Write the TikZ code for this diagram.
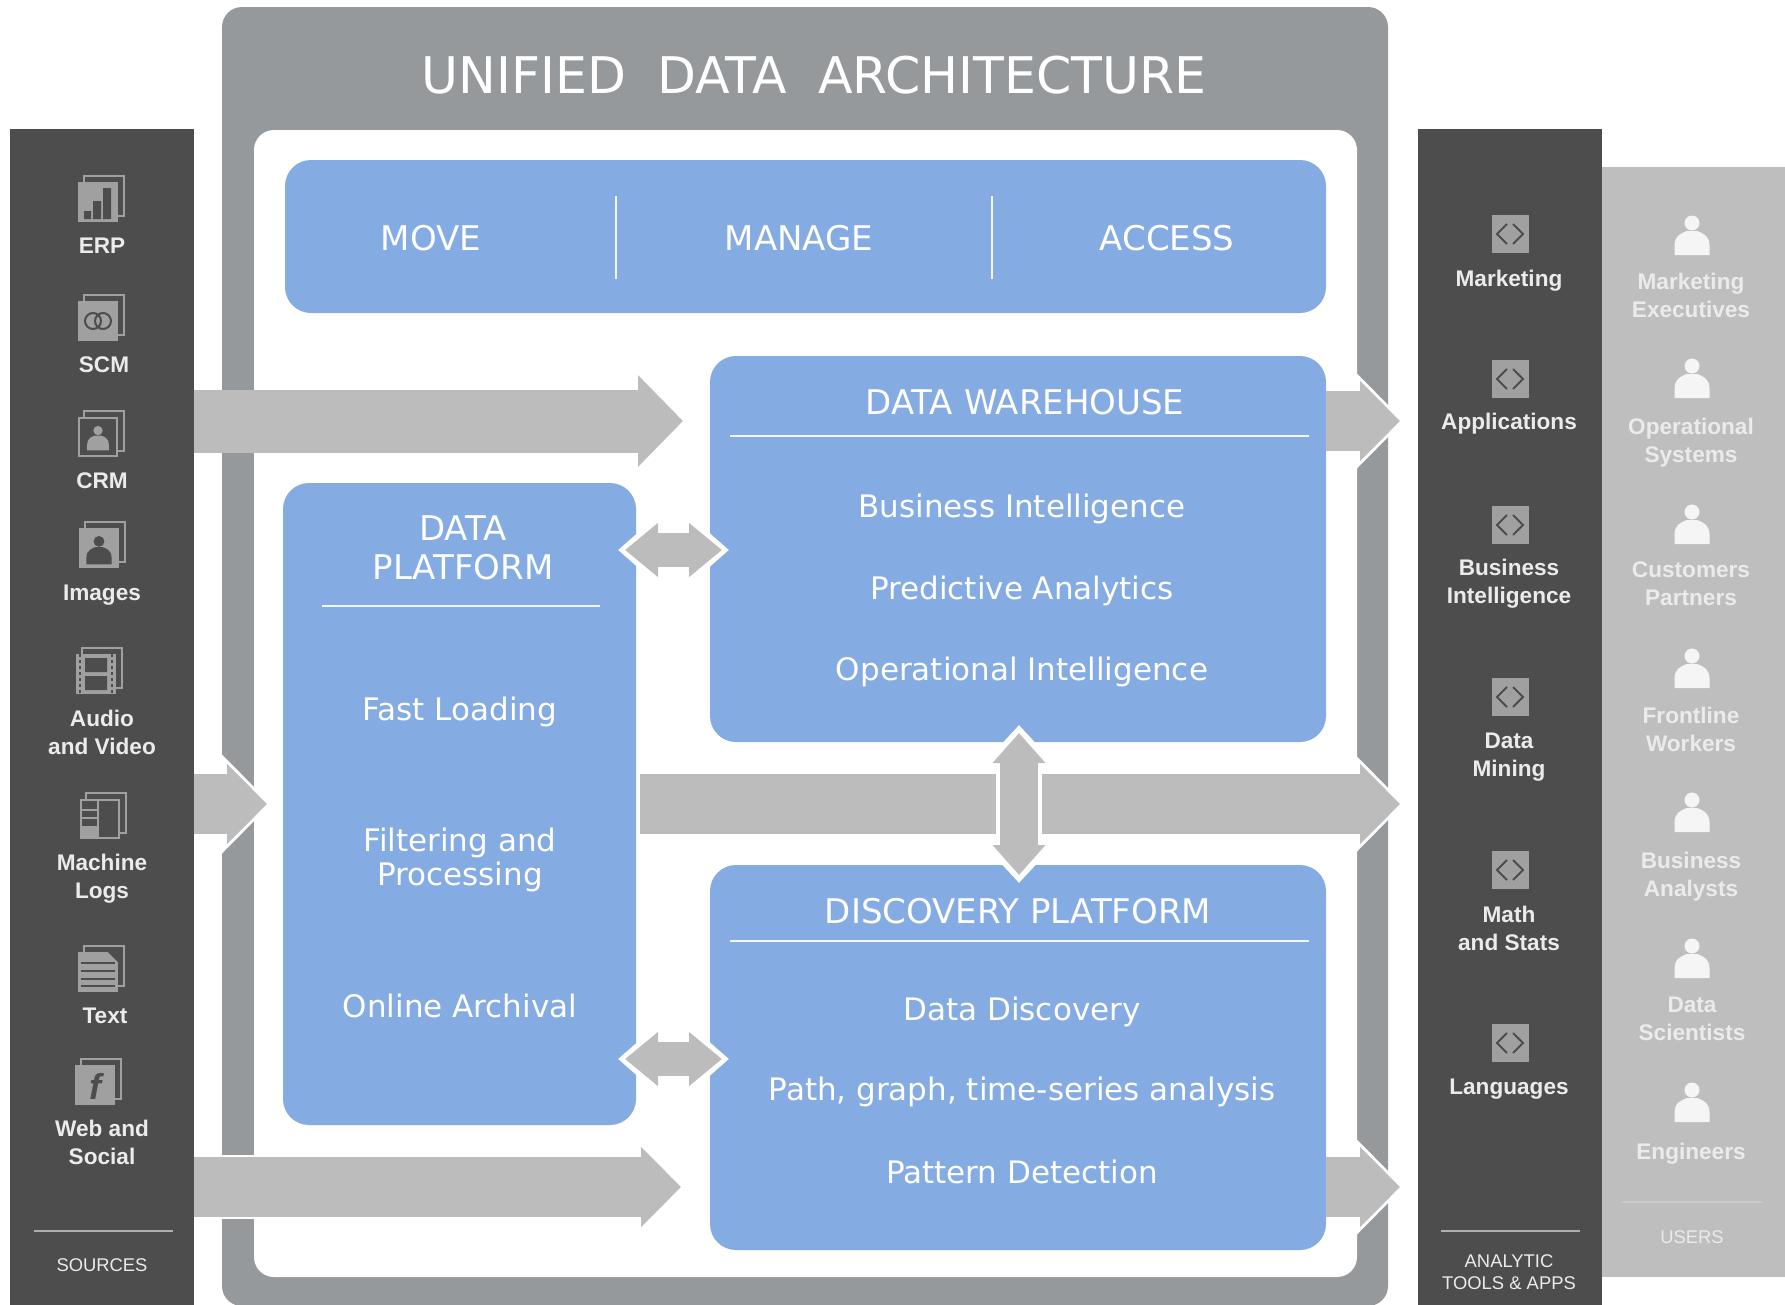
\documentclass[tikz,border=0pt]{standalone}
\usepackage{fontspec}
\setmainfont{Liberation Sans}
\newfontfamily\boxfont{DejaVu Sans}
\usepackage{tikz}
\usetikzlibrary{positioning, arrows.meta}
\definecolor{framegray}{HTML}{95999C}
\definecolor{boxblue}{HTML}{85ABE3}
\definecolor{flowgray}{HTML}{BCBCBC}
\definecolor{paneldark}{HTML}{4D4D4D}
\definecolor{panellight}{HTML}{BEBEBE}
\definecolor{icongray}{HTML}{A0A0A0}

\begin{document}
\begin{tikzpicture}[
        x=1pt, y=-1pt,
        on grid,
        panel/.style={rectangle, anchor=north west, inner sep=0pt, outer sep=0pt},
        framebox/.style={panel, rounded corners=20pt},
        bluebox/.style={panel, fill=boxblue, rounded corners=26pt},
        boxrule/.style={rectangle, fill=white!90!boxblue, inner sep=0pt, outer sep=0pt, minimum height=1.2pt},
        panelrule/.style={rectangle, fill=#1, inner sep=0pt, outer sep=0pt, minimum height=1.2pt},
        boxhead/.style={text=white, align=center, font=\boxfont\fontsize{34}{39}\selectfont},
        boxitem/.style={text=white, align=center, font=\boxfont\fontsize{31}{34}\selectfont},
        sidelabel/.style={text=white!92!black, align=center, font=\bfseries\fontsize{22.6}{28}\selectfont},
        sidefoot/.style={text=white!92!black, align=center, font=\fontsize{18.4}{21.5}\selectfont},
        longarrow/.style={draw=flowgray, line width=63pt, -{Triangle[length=45pt, width=89pt]}},
        flowarrow/.style={
            draw=flowgray, line width=60pt, -{Triangle[length=40pt, width=78pt]},
            preaction={draw=white, line width=64pt, shorten >=-4pt, -{Triangle[length=51pt, width=100pt]}}
        },
        sidelink/.style={
            draw=flowgray, line width=34pt, {Triangle[length=33pt, width=52pt]}-{Triangle[length=33pt, width=52pt]},
            preaction={draw=white, line width=40pt, shorten >=-7pt, shorten <=-7pt,
                {Triangle[length=38pt, width=64pt]}-{Triangle[length=38pt, width=64pt]}}
        },
        uplink/.style={
            draw=flowgray, line width=38pt, {Triangle[length=30pt, width=51pt]}-{Triangle[length=30pt, width=51pt]},
            preaction={draw=white, line width=46pt, shorten >=-8pt, shorten <=-8pt,
                {Triangle[length=36pt, width=64pt]}-{Triangle[length=36pt, width=64pt]}}
        },
        pagestack/.pic={
            \draw[icongray, line width=1.8pt] (-14,-20) -- (-14,-26) -- (26,-26) -- (26,14) -- (20,14);
        },
        solidpage/.pic={
            \pic {pagestack};
            \fill[icongray] (-20,-20) rectangle (20,20);
        },
        openpage/.pic={
            \pic {pagestack};
            \draw[icongray, line width=2pt] (-19,-19) rectangle (19,19);
        },
        person/.pic={
            \path[pic actions] (0,-12) circle (7.5);
            \path[pic actions] (-17.5,20) -- (-17.5,10) .. controls (-17.5,0) and (-8,-3) .. (-5,-4)
                -- (5,-4) .. controls (8,-3) and (17.5,0) .. (17.5,10) -- (17.5,20) -- cycle;
        },
        erpicon/.pic={
            \pic {solidpage};
            \fill[paneldark] (-14,9) rectangle (-7,17) (-5,-1) rectangle (3,17) (5,-14) rectangle (13,17);
        },
        scmicon/.pic={
            \pic {solidpage};
            \draw[paneldark, line width=2pt] (-5,0) circle (8) (5,0) circle (8);
        },
        crmicon/.pic={
            \pic {openpage};
            \pic[fill=icongray, scale=.62] at (0,1) {person};
        },
        imageicon/.pic={
            \pic {solidpage};
            \pic[fill=paneldark, scale=.72] at (0,2) {person};
        },
        filmicon/.pic={
            \pic {solidpage};
            \fill[paneldark] (-11,-16) rectangle (11,-2) (-11,2) rectangle (11,16);
            \draw[paneldark, line width=2.5pt, dash pattern=on 3pt off 3pt] (-16,-20) -- (-16,20) (16,-20) -- (16,20);
        },
        logicon/.pic={
            \pic {openpage};
            \draw[icongray, line width=2pt] (-19,-9) -- (-2,-9) (-19,-1) -- (-2,-1) (-2,-19) -- (-2,19);
            \fill[icongray] (-19,7) rectangle (-2,19);
        },
        texticon/.pic={
            \pic {solidpage};
            \fill[paneldark] (9,-21) -- (21,-21) -- (21,-9) -- cycle;
            \draw[paneldark, line width=2pt] (-17,-9) -- (17,-9) (-17,-1) -- (17,-1) (-17,7) -- (17,7) (-17,14) -- (17,14);
        },
        webicon/.pic={
            \pic {solidpage};
            \node[text=paneldark, font=\bfseries\itshape\fontsize{36}{36}\selectfont] (fglyph) at (0,1) {f};
        },
        toolicon/.pic={
            \fill[icongray] (-18.5,-19) rectangle (18.5,19);
            \draw[paneldark, line width=2pt] (-3,-10) -- (-13,0) -- (-3,10) (3,-10) -- (13,0) -- (3,10);
        }
    ]
    \useasboundingbox (0,0) rectangle (1785,1304);

    % --- Panels ---
    \node[panel, fill=paneldark, minimum width=184pt, minimum height=1177pt] (sources) at (10,129) {};
    \node[panel, fill=panellight, minimum width=183pt, minimum height=1110pt] (users) at (1602,167) {};
    \node[panel, fill=paneldark, minimum width=184pt, minimum height=1177pt] (tools) at (1418,129) {};
    \node[framebox, fill=framegray, minimum width=1166pt, minimum height=1299pt] (frame) at (222,7) {};
    \node[framebox, fill=white, minimum width=1103pt, minimum height=1147pt] (inner) at (254,130) {};
    \node[text=white, font=\boxfont\fontsize{50.5}{60}\selectfont] (title) at (814,75) {UNIFIED\hspace{15pt} DATA\hspace{15pt} ARCHITECTURE};

    % --- Top bar ---
    \node[bluebox, minimum width=1041pt, minimum height=153pt] (bar) at (285,160) {};
    \node[boxhead] (move) at (431,238) {MOVE};
    \node[boxhead] (manage) at (799,238) {MANAGE};
    \node[boxhead] (access) at (1167,238) {ACCESS};
    \node[boxrule, minimum height=83pt, minimum width=1.2pt] (sepa) at (616,237) {};
    \node[boxrule, minimum height=83pt, minimum width=1.2pt] (sepb) at (992,237) {};

    % --- Blue boxes ---
    \node[bluebox, minimum width=616pt, minimum height=386pt] (dw) at (710,356) {};
    \node[boxhead] (dwtitle) at (1025,402) {DATA WAREHOUSE};
    \node[boxrule, minimum width=579pt] (dwrule) at (1019,436) {};
    \node[boxitem] (dwbi) at (1022,509) {Business Intelligence};
    \node[boxitem, below=82pt of dwbi] (dwpa) {Predictive Analytics};
    \node[boxitem, below=81pt of dwpa] (dwoi) {Operational Intelligence};

    \node[bluebox, minimum width=353pt, minimum height=642pt] (dp) at (283,483) {};
    \node[boxhead] (dptitle) at (463,548) {DATA\\PLATFORM};
    \node[boxrule, minimum width=278pt] (dprule) at (461,606) {};
    \node[boxitem] (dpfast) at (460,712) {Fast Loading};
    \node[boxitem, below=148pt of dpfast] (dpfilter) {Filtering and\\Processing};
    \node[boxitem, below=146pt of dpfilter] (dparchive) {Online Archival};

    \node[bluebox, minimum width=616pt, minimum height=385pt] (disc) at (710,865) {};
    \node[boxhead] (disctitle) at (1018,911) {DISCOVERY PLATFORM};
    \node[boxrule, minimum width=579pt] (discrule) at (1019,941) {};
    \node[boxitem] (discdata) at (1022,1012) {Data Discovery};
    \node[boxitem, below=80pt of discdata] (discpath) {Path, graph, time-series analysis};
    \node[boxitem, below=80pt of discpath] (discpattern) {Pattern Detection};

    % --- Arrows ---
    \coordinate (topflow) at (0,421);
    \coordinate (midflow) at (0,804);
    \coordinate (lowflow) at (0,1187);
    \coordinate (dwlink) at (0,550);
    \coordinate (disclink) at (0,1059);
    \coordinate (midlink) at (1019,0);

    \draw[longarrow] (sources.east |- topflow) -- ([xshift=-27pt]dw.west |- topflow);
    \draw[flowarrow] (sources.east |- midflow) -- ([xshift=-16pt]dp.west |- midflow);
    \draw[flowarrow] (sources.east |- lowflow) -- ([xshift=-29pt]disc.west |- lowflow);
    \draw[flowarrow] (dw.east |- topflow) -- ([xshift=-18pt]tools.west |- topflow);
    \draw[flowarrow] ([xshift=4pt]dp.east |- midflow) -- ([xshift=-18pt]tools.west |- midflow);
    \draw[flowarrow] (disc.east |- lowflow) -- ([xshift=-18pt]tools.west |- lowflow);
    \draw[sidelink] ([xshift=-11pt]dp.east |- dwlink) -- ([xshift=12pt]dw.west |- dwlink);
    \draw[sidelink] ([xshift=-11pt]dp.east |- disclink) -- ([xshift=12pt]disc.west |- disclink);
    \draw[uplink] ([yshift=9pt]dw.south -| midlink) -- ([yshift=-10pt]disc.north -| midlink);

    % --- Sources ---
    \pic at (98,202) {erpicon};
    \node[sidelabel] (erp) at (102,246) {ERP};
    \pic at (98,321) {scmicon};
    \node[sidelabel] (scm) at (104,365) {SCM};
    \pic at (98,437) {crmicon};
    \node[sidelabel] (crm) at (102,481) {CRM};
    \pic at (99,548) {imageicon};
    \node[sidelabel] (images) at (102,595) {Images};
    \pic at (96,674) {filmicon};
    \node[sidelabel] (audio) at (102,732) {Audio\\and Video};
    \pic at (100,819) {logicon};
    \node[sidelabel] (logs) at (102,879) {Machine\\Logs};
    \pic at (98,972) {texticon};
    \node[sidelabel] (textsrc) at (105,1016) {Text};
    \pic at (95,1085) {webicon};
    \node[sidelabel] (web) at (102,1142) {Web and\\Social};
    \node[panelrule=white!55!paneldark, minimum width=139pt] (srcrule) at (103,1231) {};
    \node[sidefoot] (srcfoot) at (102,1265) {SOURCES};

    % --- Analytic tools ---
    \pic at (1510,234) {toolicon};
    \node[sidelabel] (marketing) at (1509,281) {Marketing};
    \pic at (1510,379) {toolicon};
    \node[sidelabel] (apps) at (1509,424) {Applications};
    \pic at (1510,525) {toolicon};
    \node[sidelabel] (bi) at (1509,584) {Business\\Intelligence};
    \pic at (1510,697) {toolicon};
    \node[sidelabel] (mining) at (1509,757) {Data\\Mining};
    \pic at (1510,870) {toolicon};
    \node[sidelabel] (stats) at (1509,928) {Math\\and Stats};
    \pic at (1510,1043) {toolicon};
    \node[sidelabel] (languages) at (1509,1089) {Languages};
    \node[panelrule=white!55!paneldark, minimum width=139pt] (toolrule) at (1510,1231) {};
    \node[sidefoot] (toolfoot) at (1509,1272) {ANALYTIC\\TOOLS \& APPS};

    % --- Users ---
    \pic[fill=white!96!black] at (1692,235) {person};
    \node[sidelabel] (execs) at (1691,295) {Marketing\\Executives};
    \pic[fill=white!96!black] at (1692,378) {person};
    \node[sidelabel] (opsys) at (1691,443) {Operational\\Systems};
    \pic[fill=white!96!black] at (1692,524) {person};
    \node[sidelabel] (partners) at (1691,584) {Customers\\Partners};
    \pic[fill=white!96!black] at (1692,668) {person};
    \node[sidelabel] (frontline) at (1691,729) {Frontline\\Workers};
    \pic[fill=white!96!black] at (1692,812) {person};
    \node[sidelabel] (analysts) at (1691,877) {Business\\Analysts};
    \pic[fill=white!96!black] at (1692,958) {person};
    \node[sidelabel] (scientists) at (1692,1019) {Data\\Scientists};
    \pic[fill=white!96!black] at (1692,1102) {person};
    \node[sidelabel] (engineers) at (1691,1154) {Engineers};
    \node[panelrule=white!20!panellight, minimum width=140pt] (userrule) at (1692,1202) {};
    \node[sidefoot] (userfoot) at (1692,1237) {USERS};

\end{tikzpicture}
\end{document}
